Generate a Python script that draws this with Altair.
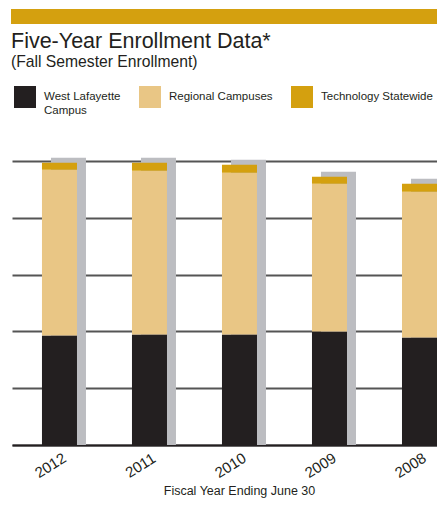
import altair as alt
import pandas as pd

# ---- data ----
years = ["2012", "2011", "2010", "2009", "2008"]
series = ["West Lafayette Campus", "Regional Campuses", "Technology Statewide"]
west_lafayette = [38570, 38930, 38930, 39980, 37870]
regional = [58370, 57660, 56960, 52040, 51340]
technology = [2460, 2810, 2810, 2460, 2810]
y_ticks = [0, 20000, 40000, 60000, 80000, 100000]

# ---- style ----
colors = ["#231f20", "#e9c685", "#d4a00f"]
gold = "#d4a00f"
shadow_color = "#bcbdc1"
ink = "#231f20"
FONT = "Liberation Sans, Arial, sans-serif"

rows = []
for i, yr in enumerate(years):
    for k, vals in enumerate([west_lafayette, regional, technology]):
        rows.append({"year": yr, "series": series[k], "order": k, "value": vals[i]})
df = pd.DataFrame(rows)

x_scale = alt.Scale(paddingInner=0.611, paddingOuter=0.1665, align=1)
y_scale = alt.Scale(domain=[0, 100000], nice=False)
x_title = "Fiscal Year Ending June 30"
y_axis = alt.Axis(values=y_ticks, format=",d", title=None)

band = alt.Chart(pd.DataFrame({"k": [0]})).mark_rect(color=gold).encode(
    x=alt.value(-1), x2=alt.value(425), y=alt.value(-152), y2=alt.value(-137)
)

shadow = alt.Chart(df).mark_bar(color=shadow_color, xOffset=9, yOffset=-5).encode(
    x=alt.X("year:N", sort=years, scale=x_scale, title=x_title),
    y=alt.Y("sum(value):Q", scale=y_scale, axis=y_axis),
)

bars = alt.Chart(df).mark_bar().encode(
    x=alt.X("year:N", sort=years, scale=x_scale, title=x_title),
    y=alt.Y("value:Q", stack="zero", scale=y_scale, axis=y_axis),
    color=alt.Color(
        "series:N",
        scale=alt.Scale(domain=series, range=colors),
        legend=alt.Legend(
            title=None, orient="none", legendX=2, legendY=-75,
            direction="horizontal", symbolType="square", symbolSize=484,
            symbolStrokeWidth=0, symbolOpacity=1, labelFont=FONT,
            labelFontSize=11.5, labelColor=ink, labelOffset=8, columnPadding=18,
            padding=0,
            labelExpr="datum.label == 'West Lafayette Campus' ? ['West Lafayette', 'Campus'] : [datum.label, ' ']",
        ),
    ),
    order=alt.Order("order:Q", sort="ascending"),
)

chart = (
    alt.layer(band, shadow, bars)
    .properties(
        width=425, height=284,
        padding={"left": 4, "top": 153, "right": 0, "bottom": 53},
        autosize=alt.AutoSizeParams(type="none"),
        title=alt.TitleParams(
            text="Five-Year Enrollment Data*",
            subtitle="(Fall Semester Enrollment)",
            anchor="start", frame="group", offset=0, dx=-1, dy=61,
            font=FONT, fontSize=21.5, fontWeight="normal", color=ink,
            subtitleFont=FONT, subtitleFontSize=15.7, subtitleColor=ink,
            subtitlePadding=3,
        ),
    )
    .configure_view(stroke=None)
    .configure_axisX(
        labelAngle=328, labelAlign="center", labelBaseline="middle",
        labelPadding=20, labelOffset=-9, labelFont=FONT, labelFontSize=15,
        labelColor=ink, ticks=False, domainColor=ink, domainWidth=2, grid=False,
        titleFont=FONT, titleFontSize=12.5, titleFontWeight="normal",
        titleColor=ink, titleX=227, titleY=49, titleBaseline="alphabetic",
        titleAlign="center",
    )
    .configure_axisY(
        domain=False, ticks=False, labelPadding=6,
        labelFont=FONT, labelFontSize=15, labelColor=ink,
        gridColor="#555555", gridWidth=2,
    )
)

chart.save("out.html", embed_options={"renderer": "svg", "actions": False})
